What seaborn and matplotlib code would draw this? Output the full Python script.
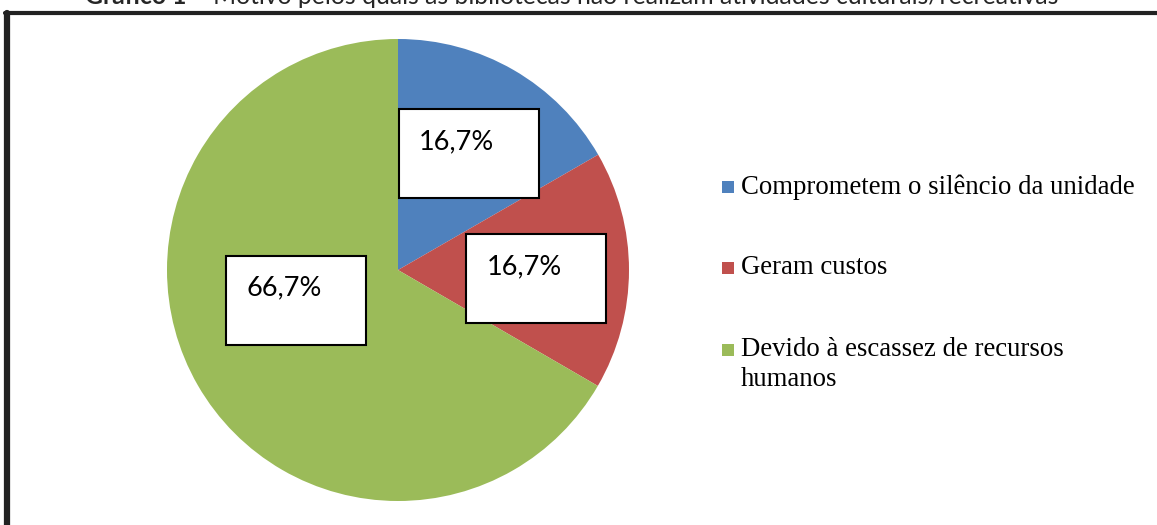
"""Pie chart: reasons why libraries do not hold cultural/recreational activities."""

import matplotlib.pyplot as plt
import numpy as np
import seaborn as sns
from matplotlib.patches import Rectangle

sns.set_theme(style="white")
plt.rcParams["font.family"] = ["Lato", "DejaVu Sans"]

# Data
categories = [
    "Comprometem o silêncio da unidade",
    "Geram custos",
    "Devido à escassez de recursos\nhumanos",
]
shares = [16.7, 16.7, 66.7]
value_labels = ["16,7%", "16,7%", "66,7%"]
colors = ["#4F81BD", "#C0504D", "#9BBB59"]

title_bold = "Gráfico 1"
title_rest = " – Motivo pelos quais as bibliotecas não realizam atividades culturais/recreativas"

# label box placement relative to the wedge middle: (radius fraction, angle shift in deg)
label_pos = [(0.59, -1.5), (0.60, -3.5), (0.46, -13.5)]

W, H = 1157, 525
fig = plt.figure(figsize=(W / 100, H / 100), dpi=100)

# frame (top and left edges only are visible)
fig.add_artist(plt.Line2D([7 / W, 7 / W], [0, 1 - 12.5 / H], color="#222222", lw=4.5))
fig.add_artist(plt.Line2D([5 / W, 1], [1 - 12.5 / H, 1 - 12.5 / H], color="#222222", lw=3))

# title, partly cut off at the top (as in the source image)
t = fig.text(85 / W, 1 - 4 / H, title_bold, fontsize=17.8, fontweight="bold",
             ha="left", va="baseline")
fig.canvas.draw()
bb = t.get_window_extent()
fig.text(bb.x1 / W, 1 - 4 / H, title_rest, fontsize=17.8, ha="left", va="baseline")

# pie
cx, cy, r = 398, 270, 231
ax = fig.add_axes([(cx - r) / W, (H - cy - r) / H, 2 * r / W, 2 * r / H])
wedges, _ = ax.pie(shares, colors=colors, startangle=90, counterclock=False,
                   wedgeprops=dict(linewidth=0))
ax.set_xlim(-1, 1)
ax.set_ylim(-1, 1)
ax.set_aspect("auto")
ax.axis("off")

box_w, box_h = 140 / r, 89 / r
for w, lab, (dist, shift) in zip(wedges, value_labels, label_pos):
    ang = np.deg2rad((w.theta1 + w.theta2) / 2 + shift)
    bx, by = dist * np.cos(ang), dist * np.sin(ang)
    ax.add_patch(Rectangle((bx - box_w / 2, by - box_h / 2), box_w, box_h,
                           facecolor="white", edgecolor="black", lw=1.5, zorder=3,
                           clip_on=False))
    ax.text(bx - box_w / 2 + 20 / r, by + box_h / 2 - 20 / r, lab, fontsize=19.5,
            ha="left", va="top", zorder=4, color="black")

# legend drawn by hand so markers align with the first text line
leg_x = 722
leg_y = [187, 268, 350]
for y, cat, col in zip(leg_y, categories, colors):
    fig.add_artist(Rectangle((leg_x / W, (H - y - 6) / H), 12 / W, 12 / H,
                             facecolor=col, edgecolor="none",
                             transform=fig.transFigure))
    fig.text((leg_x + 19) / W, (H - y + 13) / H, cat, fontsize=19.3,
             family=["Liberation Serif"], ha="left", va="top",
             linespacing=1.25, color="black")

fig.savefig("out.png", dpi=100)
